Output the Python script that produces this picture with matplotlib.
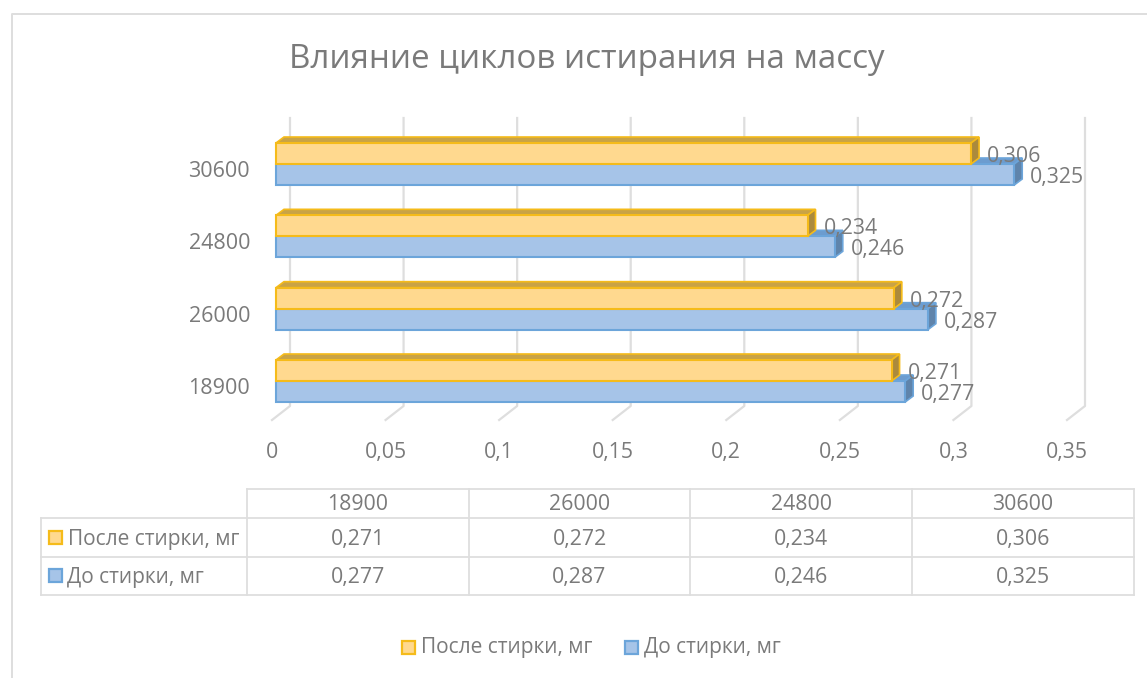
import matplotlib
matplotlib.use("Agg")
import matplotlib.pyplot as plt
from matplotlib.patches import Polygon, Rectangle
from matplotlib.transforms import ScaledTranslation

plt.rcParams["font.family"] = ["Open Sans", "DejaVu Sans"]

TITLE = "Влияние циклов истирания на массу"
categories = ["18900", "26000", "24800", "30600"]
after_wash = [0.271, 0.272, 0.234, 0.306]
before_wash = [0.277, 0.287, 0.246, 0.325]
after_label = "После стирки, мг"
before_label = "До стирки, мг"
x_ticks = [0, 0.05, 0.1, 0.15, 0.2, 0.25, 0.3, 0.35]

W, H = 1147, 678
TEXT = "#7a7a7a"
GRID = "#dedede"
ORANGE = dict(face="#ffd98f", edge="#f5bb1a", top="#c9a346", side="#ab8a3c")
BLUE = dict(face="#a6c4e8", edge="#6ca5da", top="#6c9ccf", side="#5f84ab")


def comma(v):
    return f"{v:g}".replace(".", ",")


fig = plt.figure(figsize=(W / 100, H / 100), dpi=100, facecolor="white")

# pixel-space layer for the frame, the title, the data table and the legend
bg = fig.add_axes([0, 0, 1, 1])
bg.set_xlim(0, W)
bg.set_ylim(H, 0)
bg.axis("off")

# plot area: x=0 sits at px 276, 0.35 at px 1071; rows are 72.33 px apart
L, R, T, B = 276, 1071, 118, 420
ax = fig.add_axes([L / W, 1 - B / H, (R - L) / W, (B - T) / H])
ax.patch.set_alpha(0)
ax.set_xlim(0, 0.35)
row = 72.33
ax.set_ylim(-(B - 381) / row, 3 + (164 - T) / row)
for s in ax.spines.values():
    s.set_visible(False)

px = 0.35 / (R - L)
py = 1 / row
y_low = ax.get_ylim()[0]
y_high = ax.get_ylim()[1]

# gridlines: back wall plus the floor diagonal
for v in x_ticks:
    ax.plot([v - 4 * px, v + 14 * px, v + 14 * px],
            [y_low, y_low + 14 * py, y_high],
            color=GRID, lw=1.6, clip_on=False, zorder=1)


def bars(values, offset, c, z):
    h = 21 * py
    dx, dy = 8 * px, 6 * py
    for i, v in enumerate(values):
        y0 = i + offset
        y1 = y0 + h
        ax.add_patch(Polygon([(0, y1), (dx, y1 + dy), (v + dx, y1 + dy), (v, y1)],
                             fc=c["top"], ec=c["edge"], lw=1.2, clip_on=False, zorder=z))
        ax.add_patch(Polygon([(v, y0), (v + dx, y0 + dy), (v + dx, y1 + dy), (v, y1)],
                             fc=c["side"], ec=c["edge"], lw=1.2, clip_on=False, zorder=z))
        ax.barh(y0, v, height=h, align="edge", color=c["face"], edgecolor=c["edge"],
                lw=1.5, clip_on=False, zorder=z + 0.1)
        ax.annotate(comma(v), (v, y0 + h / 2), xytext=(16 * 0.72, -3 * 0.72),
                    textcoords="offset points", ha="left", va="center",
                    color=TEXT, fontsize=15.3, zorder=5)


bars(before_wash, -21 * py, BLUE, 2)
bars(after_wash, 0, ORANGE, 3)

ax.set_xticks(x_ticks)
ax.set_xticklabels([comma(v) for v in x_ticks], color=TEXT, fontsize=15.3)
ax.set_yticks(range(len(categories)))
ax.set_yticklabels(categories, color=TEXT, fontsize=15.5)
ax.tick_params(length=0)
ax.tick_params(axis="x", pad=15.5)
ax.tick_params(axis="y", pad=26 * 0.72)
for lab in ax.get_xticklabels():
    lab.set_transform(lab.get_transform() + ScaledTranslation(-4 / 100, 0, fig.dpi_scale_trans))
for lab in ax.get_yticklabels():
    lab.set_transform(lab.get_transform() + ScaledTranslation(0, -5 / 100, fig.dpi_scale_trans))

# chart frame, only top and left show in the crop
bg.plot([12, 12, W], [H, 14, 14], color=GRID, lw=1.4, clip_on=False)
bg.text(587, 59.5, TITLE, ha="center", va="center", color=TEXT, fontsize=23.9)

# data table under the axis
col_x = [247, 469, 690, 912, 1134]
row_y = [489, 518, 557, 595]
tc = GRID
for x in col_x:
    bg.plot([x, x], [row_y[0], row_y[-1]], color=tc, lw=1.3)
bg.plot([41, 41], [row_y[1], row_y[-1]], color=tc, lw=1.3)
bg.plot([247, 1134], [row_y[0], row_y[0]], color=tc, lw=1.3)
for y in row_y[1:]:
    bg.plot([41, 1134], [y, y], color=tc, lw=1.3)

table_rows = [categories, [comma(v) for v in after_wash], [comma(v) for v in before_wash]]
for r, vals in enumerate(table_rows):
    yc = (row_y[r] + row_y[r + 1]) / 2 + 1.5
    for c, t in enumerate(vals):
        bg.text((col_x[c] + col_x[c + 1]) / 2, yc, t, ha="center", va="center",
                color=TEXT, fontsize=15.3)


def swatch(x, y, c):
    bg.add_patch(Rectangle((x, y - 6.5), 13, 13, fc=c["face"], ec=c["edge"], lw=1.6))


swatch(49, 537.5, ORANGE)
bg.text(68, 539, after_label, va="center", color=TEXT, fontsize=15)
swatch(49, 575.5, BLUE)
bg.text(67, 577, before_label, va="center", color=TEXT, fontsize=15)

# legend
swatch(402, 647, ORANGE)
bg.text(421, 648, after_label, va="center", color=TEXT, fontsize=15)
swatch(625, 647, BLUE)
bg.text(644, 648, before_label, va="center", color=TEXT, fontsize=15)

fig.savefig("out.png", dpi=100)
